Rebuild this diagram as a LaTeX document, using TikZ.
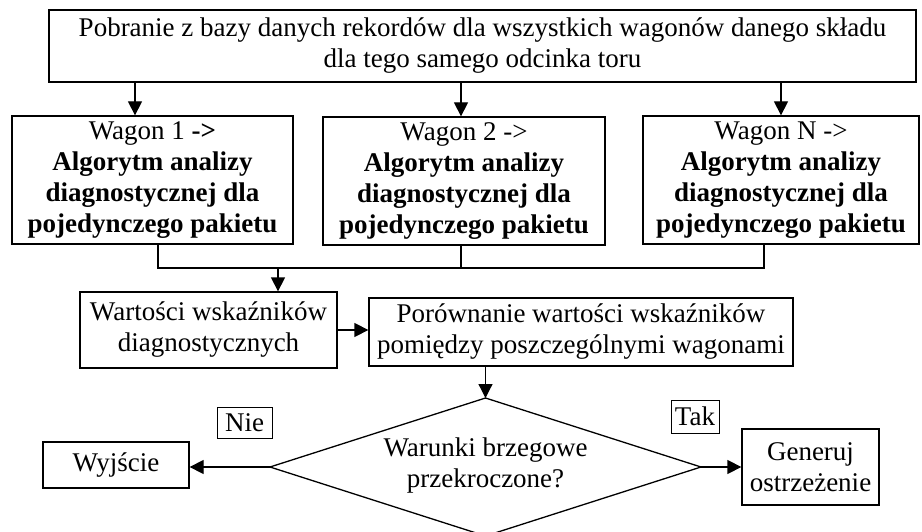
\documentclass[tikz,border=0pt]{standalone}
\usepackage{fontspec}
\setmainfont{Liberation Serif}
\usetikzlibrary{arrows.meta}

\begin{document}
\begin{tikzpicture}[x=1pt,y=-1pt,
  font=\fontsize{27}{31}\selectfont,
  box/.style={draw,line width=1.3pt,align=center,inner sep=0pt},
  tag/.style={draw,line width=1pt,inner sep=0pt},
  link/.style={line width=1.3pt},
  arr/.style={line width=1.3pt,-{Triangle[length=14pt,width=14pt]}}]
\useasboundingbox (0,0) rectangle (922,532);

% process boxes
\node[box,minimum width=867pt,minimum height=72pt] (top) at (482.5,46)
  {Pobranie z bazy danych rekordów dla  wszystkich wagonów danego składu\\dla tego samego odcinka toru};

\node[box,minimum width=281pt,minimum height=128pt] (w1) at (152.5,180)
  {Wagon 1 \textbf{->}\\\textbf{Algorytm analizy}\\\textbf{diagnostycznej dla}\\\textbf{pojedynczego pakietu}};
\node[box,minimum width=282pt,minimum height=128pt] (w2) at (464,181)
  {Wagon 2 ->\\\textbf{Algorytm analizy}\\\textbf{diagnostycznej dla}\\\textbf{pojedynczego pakietu}};
\node[box,minimum width=276pt,minimum height=128pt] (w3) at (781,180)
  {Wagon N ->\\\textbf{Algorytm analizy}\\\textbf{diagnostycznej dla}\\\textbf{pojedynczego pakietu}};

\node[box,minimum width=257pt,minimum height=76pt] (wart) at (208.5,330)
  {Wartości wskaźników\\diagnostycznych};
\node[box,minimum width=424pt,minimum height=68pt] (por) at (581,332)
  {Porównanie wartości wskaźników\\pomiędzy poszczególnymi wagonami};

% decision: corners of the diamond, then its text
\coordinate (dt) at (485.5,398);
\coordinate (dl) at (270,467);
\coordinate (dr) at (701,467);
\coordinate (db) at (485.5,536);
\draw[line width=1.3pt,line join=miter] (dt) -- (dr) -- (db) -- (dl) -- cycle;
\node[align=center,inner sep=0pt] (dia) at (485.5,466)
  {Warunki brzegowe\\przekroczone?};

\node[box,minimum width=146pt,minimum height=46pt] (wy) at (116,465) {Wyjście};
\node[box,minimum width=137pt,minimum height=76pt] (gen) at (810.5,467)
  {Generuj\\ostrzeżenie};

\node[tag,minimum width=55pt,minimum height=31pt] (nie) at (244.5,422.5) {Nie};
\node[tag,minimum width=48pt,minimum height=33pt] (tak) at (695,416.5) {Tak};

% branch and merge points
\coordinate (c1) at (135,0);
\coordinate (c2) at (461,0);
\coordinate (c3) at (781,0);
\coordinate (d1) at (158,268);
\coordinate (d2) at (461,268);
\coordinate (d3) at (764,268);
\coordinate (m) at (278,268);

% connectors
\draw[arr] (top.south -| c1) -- (w1.north -| c1);
\draw[arr] (top.south -| c2) -- (w2.north -| c2);
\draw[arr] (top.south -| c3) -- (w3.north -| c3);

\draw[link] (w1.south -| d1) -- (d1) -- (d3) -- (w3.south -| d3);
\draw[link] (w2.south -| d2) -- (d2);
\draw[arr] (m) -- (m |- wart.north);

\draw[arr] (wart.east) -- (wart.east -| por.west);
\draw[arr] (dt |- por.south) -- (dt);
\draw[arr] (dl) -- (dl -| wy.east);
\draw[arr] (dr) -- (dr -| gen.west);
\end{tikzpicture}
\end{document}
